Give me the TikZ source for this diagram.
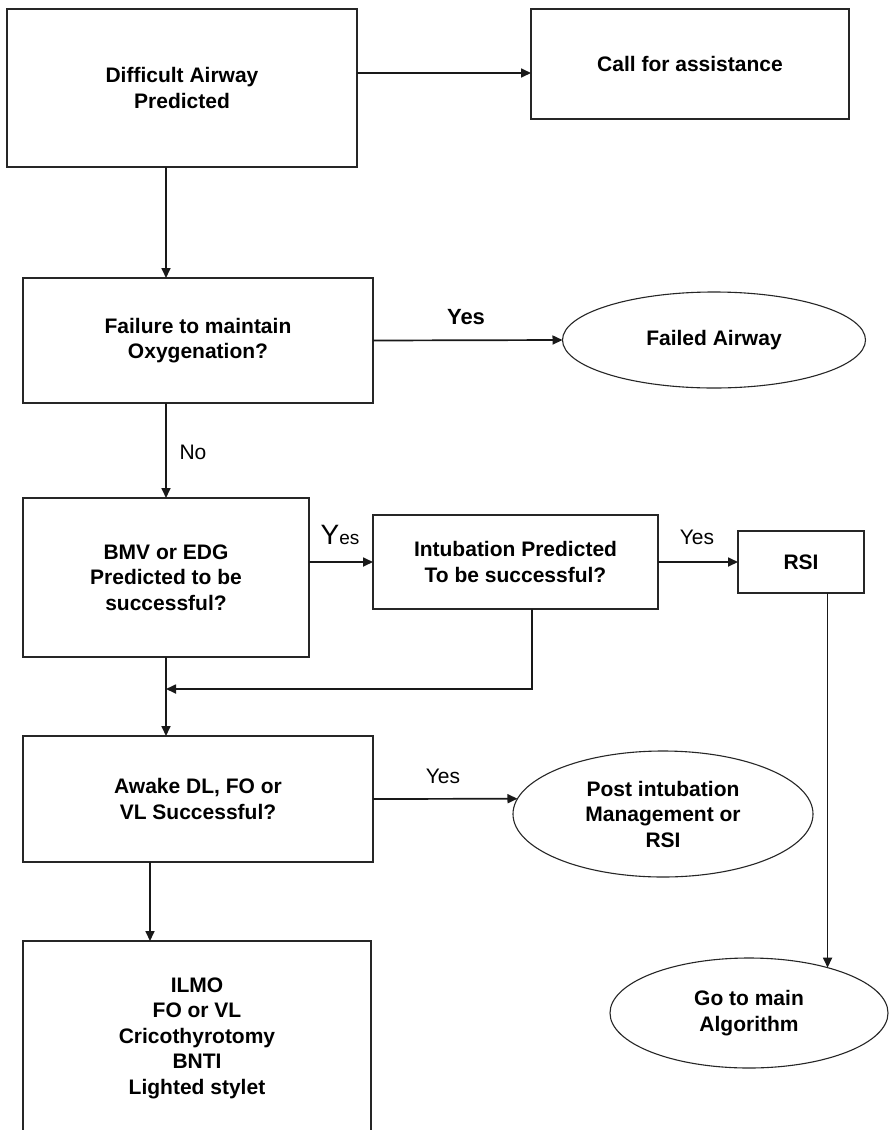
\documentclass[tikz,border=0pt]{standalone}
\usepackage{fontspec}
\setmainfont{Liberation Sans}
\usetikzlibrary{arrows.meta,shapes.geometric,calc}

\begin{document}
\begin{tikzpicture}[x=1pt,y=-1pt,
  every node/.style={font=\fontsize{21}{25.5}\selectfont\bfseries, text=black, align=center},
  box/.style={draw=black!85, line width=1.1pt, rectangle, inner sep=0pt, outer sep=0pt, fill=white},
  oval/.style={draw=black!85, line width=1.1pt, ellipse, inner sep=0pt, outer sep=0pt, fill=white},
  arr/.style={draw=black!90, line width=1.7pt, -{Triangle[length=10pt,width=9pt]}},
  lbl/.style={font=\fontsize{21}{25}\selectfont\mdseries},
  lblbold/.style={font=\fontsize{22}{26}\selectfont\bfseries}]

\useasboundingbox[fill=white] (0,0) rectangle (889,1130);

% decision boxes and outcomes
\node[box, minimum width=350pt, minimum height=158pt] (b1) at (182,88) {Difficult Airway\\Predicted};
\node[box, minimum width=318pt, minimum height=110pt] (call) at (690,64) {Call for assistance};
\node[box, minimum width=350pt, minimum height=125pt] (b2) at (198,340.5) {Failure to maintain\\Oxygenation?};
\node[oval, minimum width=303pt, minimum height=96pt] (fail) at (714,340) {Failed Airway};
\node[box, minimum width=286pt, minimum height=159pt] (b3) at (166,577.5) {BMV or EDG\\Predicted to be\\successful?};
\node[box, minimum width=285pt, minimum height=94pt] (b4) at (515.5,562) {Intubation Predicted\\To be successful?};
\node[box, minimum width=126pt, minimum height=62pt] (rsi) at (801,562) {RSI};
\node[box, minimum width=350pt, minimum height=126pt] (b5) at (198,799) {Awake DL, FO or\\VL Successful?};
\node[oval, minimum width=300pt, minimum height=126pt] (post) at (663,814) {Post intubation\\Management or\\RSI};
\node[box, minimum width=348pt, minimum height=194pt] (b6) at (197,1038) {ILMO\\FO or VL\\Cricothyrotomy\\BNTI\\Lighted stylet};
\node[oval, minimum width=278pt, minimum height=110pt] (go) at (749,1013) {Go to main\\Algorithm};

% junction where the intubation branch rejoins the main line
\coordinate (merge) at (166,689);

% connectors
\draw[arr] ([yshift=15pt]b1.east) -- ([yshift=15pt]b1.east -| call.west);
\draw[arr] (b1.south -| b3.north) -- (b2.north -| b3.north);
\draw[arr] (b2.east) -- (fail.west);
\draw[arr] (b2.south -| b3.north) -- (b3.north);
\draw[arr] (b3.east |- b4.west) -- (b4.west);
\draw[arr] (b4.east) -- (rsi.west);
\draw[arr] (b3.south) -- (b5.north -| b3.south);
\draw[arr] ([xshift=16.5pt]b4.south) |- (merge);
\draw[arr] (b5.east) -- (post.174);
\draw[arr] ([xshift=-48pt]b5.south) -- ([xshift=-48pt]b5.south |- b6.north);
\draw[arr] (rsi.south -| go.30) -- (go.30);

% branch labels
\node[lblbold] (yes1) at (466,317) {Yes};
\node[lbl] (no) at (193,452) {No};
\node[lbl, font=\fontsize{19}{25}\selectfont\mdseries] (yes2) at (340,535) {{\fontsize{28}{28}\selectfont Y}es};
\node[lbl] (yes3) at (697,537) {Yes};
\node[lbl] (yes4) at (443,776) {Yes};
\end{tikzpicture}
\end{document}
